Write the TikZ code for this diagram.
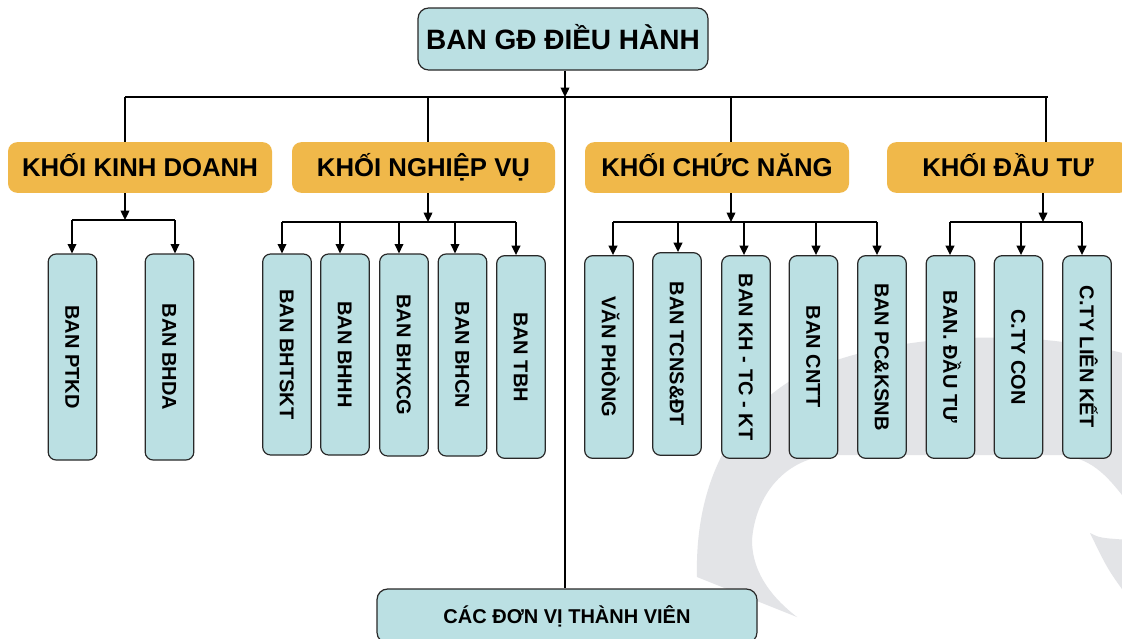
\documentclass[tikz,border=0pt]{standalone}
\usepackage{fontspec}
\setmainfont{Liberation Sans}
\usetikzlibrary{arrows.meta}
\definecolor{boxfill}{RGB}{187,224,227}
\definecolor{boxline}{RGB}{40,40,40}
\definecolor{khoifill}{RGB}{240,184,74}
\definecolor{wmgray}{RGB}{227,228,231}
\begin{document}
\begin{tikzpicture}[x=0.75pt,y=-0.75pt,
  conn/.style={line width=1pt},
  arr/.style={conn,-{Triangle[length=7pt,width=6.5pt]}},
  vbox/.style={draw=boxline,fill=boxfill,line width=0.9pt,rounded corners=6pt,rotate=-90,
    minimum width=152pt,minimum height=36.5pt,inner sep=0pt,text height=10.8pt,text depth=0pt,
    font=\fontsize{15}{18}\selectfont\bfseries},
  khoi/.style={fill=khoifill,rounded corners=7pt,minimum height=38pt,inner sep=0pt,
    text height=13.8pt,text depth=0pt,font=\fontsize{19.3}{23}\selectfont\bfseries},
  hbox/.style={draw=boxline,fill=boxfill,line width=0.9pt,rounded corners=8pt,inner sep=0pt,text depth=0pt}
]
\useasboundingbox (0,0) rectangle (1122,639);
\fill[white] (0,0) rectangle (1122,639);

% watermark
\fill[wmgray] (697,577) .. controls (695,500) and (720,420) .. (800,375)
  .. controls (880,335) and (1020,325) .. (1130,355) -- (1130,505)
  .. controls (1110,480) and (1095,458) .. (1060,455) -- (830,455)
  .. controls (780,460) and (755,500) .. (752,540)
  .. controls (752,575) and (775,600) .. (797,617) -- cycle;
\fill[wmgray] (1090,533) .. controls (1100,538) .. (1130,540) -- (1130,600)
  .. controls (1108,570) .. (1090,533) -- cycle;

% nodes
\node[hbox,minimum width=217.5pt,minimum height=46.5pt,text height=15pt,
  font=\fontsize{21}{25}\selectfont\bfseries] (gd) at (563,39) {BAN GĐ ĐIỀU HÀNH};
\node[khoi,minimum width=198pt] (kd) at (140,167.5) {KHỐI KINH DOANH};
\node[khoi,minimum width=197.25pt] (nv) at (423.5,167.5) {KHỐI NGHIỆP VỤ};
\node[khoi,minimum width=198pt] (cn) at (717,167.5) {KHỐI CHỨC NĂNG};
\node[khoi,minimum width=181.5pt] (dt) at (1008,167.5) {KHỐI ĐẦU TƯ};
\node[hbox,minimum width=285pt,minimum height=40.5pt,text height=10.8pt,
  font=\fontsize{15}{18}\selectfont\bfseries] (dv) at (567,616) {CÁC ĐƠN VỊ THÀNH VIÊN};

\node[vbox,minimum width=154.5pt] (ptkd) at (72.5,357) {BAN PTKD};
\node[vbox,minimum width=154.5pt] (bhda) at (169.5,357) {BAN BHDA};
\node[vbox,minimum width=150.75pt] (bhtskt) at (287,354.5) {BAN BHTSKT};
\node[vbox,minimum width=150.75pt] (bhhh) at (345,354.5) {BAN BHHH};
\node[vbox,minimum width=151.5pt] (bhxcg) at (404,355) {BAN BHXCG};
\node[vbox,minimum width=151.5pt] (bhcn) at (462.5,355) {BAN BHCN};
\node[vbox] (tbh) at (521,357) {BAN TBH};
\node[vbox] (vp) at (609,357) {VĂN PHÒNG};
\node[vbox] (tcns) at (677,354) {BAN TCNS\&ĐT};
\node[vbox] (kh) at (746,357) {BAN KH - TC - KT};
\node[vbox] (cntt) at (813.5,357) {BAN CNTT};
\node[vbox] (pc) at (882,357) {BAN PC\&KSNB};
\node[vbox] (bdt) at (950.5,357) {BAN. ĐẦU TƯ};
\node[vbox] (con) at (1018.5,357) {C.TY CON};
\node[vbox] (lk) at (1087,357) {C.TY LIÊN KẾT};

% main bus
\coordinate (t0) at (565,97);
\coordinate (busL) at (125,97);
\coordinate (busR) at (1048,97);
\coordinate (b2) at (428,97);
\coordinate (b3) at (731,97);
\coordinate (b4) at (1046,97);
\draw[conn] (busL) -- (busR);
\draw[arr] (t0 |- gd.south) -- (t0);
\draw[conn] (t0) -- (t0 |- dv.north);
\draw[conn] (busL) -- (busL |- kd.north);
\draw[conn] (b2) -- (b2 |- nv.north);
\draw[conn] (b3) -- (b3 |- cn.north);
\draw[conn] (b4) -- (b4 |- dt.north);

% khoi kinh doanh
\coordinate (kdm) at (125,220);
\draw[arr] (kdm |- kd.south) -- (kdm);
\coordinate (kdl) at (72,220);
\coordinate (kdr) at (175,220);
\draw[conn] (kdl) -- (kdr);
\foreach \x/\n in {72/ptkd,175/bhda}{
  \coordinate (k-\n) at (\x,220);
  \draw[arr] (k-\n) -- (k-\n |- \n.west);
}

% khoi nghiep vu
\coordinate (nvm) at (428,222);
\draw[arr] (nvm |- nv.south) -- (nvm);
\coordinate (nvl) at (282,222);
\coordinate (nvr) at (516,222);
\draw[conn] (nvl) -- (nvr);
\foreach \x/\n in {282/bhtskt,340/bhhh,399/bhxcg,455/bhcn,516/tbh}{
  \coordinate (k-\n) at (\x,222);
  \draw[arr] (k-\n) -- (k-\n |- \n.west);
}

% khoi chuc nang
\coordinate (cnm) at (731,222);
\draw[arr] (cnm |- cn.south) -- (cnm);
\coordinate (cnl) at (613,222);
\coordinate (cnr) at (877,222);
\draw[conn] (cnl) -- (cnr);
\foreach \x/\n in {613/vp,678/tcns,744/kh,816/cntt,877/pc}{
  \coordinate (k-\n) at (\x,222);
  \draw[arr] (k-\n) -- (k-\n |- \n.west);
}

% khoi dau tu
\coordinate (dtm) at (1043,222);
\draw[arr] (dtm |- dt.south) -- (dtm);
\coordinate (dtl) at (950,222);
\coordinate (dtr) at (1082,222);
\draw[conn] (dtl) -- (dtr);
\foreach \x/\n in {950/bdt,1021/con,1082/lk}{
  \coordinate (k-\n) at (\x,222);
  \draw[arr] (k-\n) -- (k-\n |- \n.west);
}
\end{tikzpicture}
\end{document}
